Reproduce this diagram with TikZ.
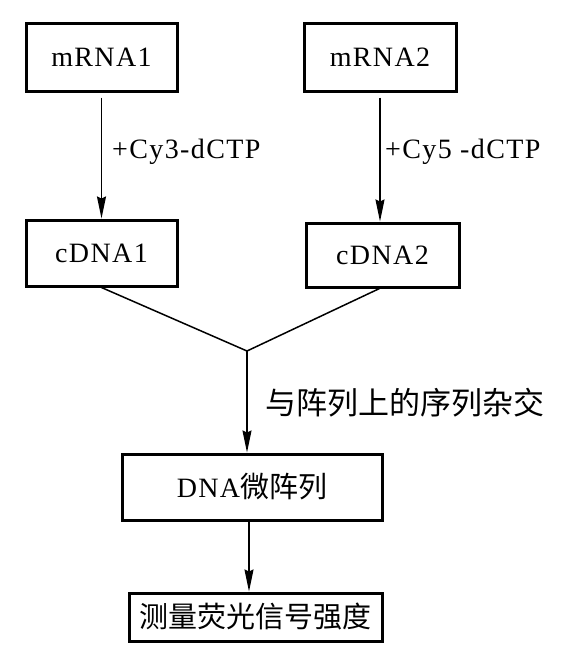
\documentclass[tikz,border=0pt]{standalone}
\usepackage{fontspec}
\setmainfont[LetterSpace=5]{Liberation Serif}
\newfontfamily\cjk{Noto Sans CJK SC}
\usetikzlibrary{arrows.meta,calc}
\tikzset{
  box/.style={draw, line width=3pt, inner sep=0pt, font=\fontsize{28}{30}\selectfont},
  conn/.style={line width=1.5pt},
  arr/.style={conn, -{Stealth[length=22pt,width=9pt,inset=2pt]}},
  lbl/.style={anchor=west, inner sep=0pt, font=\fontsize{28}{30}\selectfont},
}
\begin{document}
\begin{tikzpicture}[x=1pt,y=-1pt]
\useasboundingbox (0,0) rectangle (566,659);
\node[box, minimum width=151pt, minimum height=68pt] (m1) at (101.5,57) {mRNA1};
\node[box, minimum width=152pt, minimum height=68pt] (m2) at (380,57) {mRNA2};
\node[box, minimum width=151pt, minimum height=66pt] (c1) at (101.5,253) {cDNA1};
\node[box, minimum width=153pt, minimum height=64pt] (c2) at (382.5,255) {cDNA2};
\node[box, minimum width=260pt, minimum height=66pt] (dna) at (252,487) {DNA{\cjk\fontsize{29}{30}\selectfont 微阵列}};
\node[box, minimum width=253pt, minimum height=48pt] (fin) at (255.5,617) {\cjk\fontsize{29}{30}\selectfont 测量荧光信号强度};
\coordinate (J) at (247,351);
\node[lbl] (l1) at (112,152) {+Cy3-dCTP};
\node[lbl] (l2) at (385,152) {+Cy5 -dCTP};
\node[lbl, font=\cjk\fontsize{31}{32}\selectfont] (l3) at (265,403) {与阵列上的序列杂交};
\draw[arr, shorten <=5pt] (m1.south) -- (m1.south |- c1.north);
\draw[arr, shorten <=5pt] (m2.south) -- (m2.south |- c2.north);
\draw[conn] (c1.south) -- (J) -- ($(c2.south)+(-3,0)$);
\draw[arr] (J) -- (J |- dna.north);
\draw[arr] ($(dna.south)+(-3,0)$) -- ($(fin.north)+(-6.5,0)$);
\end{tikzpicture}
\end{document}
